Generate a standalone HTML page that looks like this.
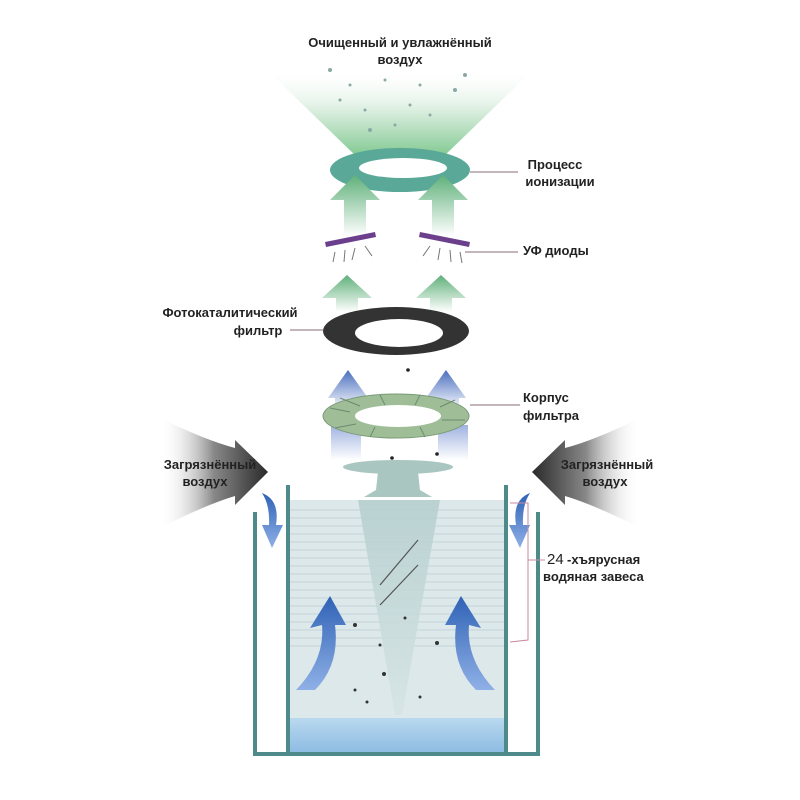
<!DOCTYPE html>
<html><head><meta charset="utf-8"><style>
html,body{margin:0;padding:0;background:#fff}
svg{display:block}
text{font-family:"Liberation Sans","DejaVu Sans",sans-serif;font-weight:bold;font-size:13px;fill:#222}
</style></head><body>
<svg width="800" height="800" viewBox="0 0 800 800" xmlns="http://www.w3.org/2000/svg">
<defs>
<linearGradient id="fan" x1="0" y1="0" x2="0" y2="1">
<stop offset="0" stop-color="#ffffff" stop-opacity="0"/>
<stop offset="0.5" stop-color="#cfe9d5"/>
<stop offset="1" stop-color="#6cc07f"/>
</linearGradient>
<linearGradient id="garr" x1="0" y1="1" x2="0" y2="0">
<stop offset="0" stop-color="#ffffff"/>
<stop offset="1" stop-color="#5fb07a"/>
</linearGradient>
<linearGradient id="barr" x1="0" y1="1" x2="0" y2="0">
<stop offset="0" stop-color="#ffffff"/>
<stop offset="1" stop-color="#4a6fbf"/>
</linearGradient>
<linearGradient id="bcol" x1="0" y1="1" x2="0" y2="0">
<stop offset="0" stop-color="#ffffff"/>
<stop offset="1" stop-color="#9fb2e0"/>
</linearGradient>
<linearGradient id="darkL" x1="0" y1="0" x2="1" y2="0">
<stop offset="0" stop-color="#fff" stop-opacity="0"/>
<stop offset="0.5" stop-color="#888"/>
<stop offset="1" stop-color="#2a2a2a"/>
</linearGradient>
<linearGradient id="darkR" x1="1" y1="0" x2="0" y2="0">
<stop offset="0" stop-color="#fff" stop-opacity="0"/>
<stop offset="0.5" stop-color="#888"/>
<stop offset="1" stop-color="#2a2a2a"/>
</linearGradient>
<linearGradient id="curv" x1="0" y1="1" x2="0" y2="0">
<stop offset="0" stop-color="#8fb0e6"/>
<stop offset="1" stop-color="#2f62b5"/>
</linearGradient>
<linearGradient id="bottomw" x1="0" y1="0" x2="0" y2="1">
<stop offset="0" stop-color="#b9d9ef"/>
<stop offset="1" stop-color="#8dbbe2"/>
</linearGradient>
<linearGradient id="cone" x1="0" y1="0" x2="0" y2="1">
<stop offset="0" stop-color="#b6cfcf"/>
<stop offset="1" stop-color="#d6e4e4"/>
</linearGradient>
</defs>

<text x="400" y="47" text-anchor="middle">Очищенный и увлажнённый</text>
<text x="400" y="64" text-anchor="middle">воздух</text>

<polygon points="265,68 535,68 440,160 360,160" fill="url(#fan)" opacity="0.9"/>
<g fill="#8aa9a5">
<circle cx="330" cy="70" r="2"/><circle cx="350" cy="85" r="1.5"/><circle cx="385" cy="80" r="1.5"/><circle cx="420" cy="85" r="1.5"/>
<circle cx="455" cy="90" r="2"/><circle cx="340" cy="100" r="1.5"/><circle cx="365" cy="110" r="1.5"/><circle cx="410" cy="105" r="1.5"/>
<circle cx="430" cy="115" r="1.5"/><circle cx="370" cy="130" r="2"/><circle cx="395" cy="125" r="1.5"/><circle cx="465" cy="75" r="2"/>
</g>

<ellipse cx="400" cy="170" rx="70" ry="22" fill="#59a898"/>
<ellipse cx="403" cy="168" rx="44" ry="10" fill="#fff"/>
<line x1="470" y1="172" x2="518" y2="172" stroke="#8a6a7a" stroke-width="1"/>
<text x="555" y="169" text-anchor="middle">Процесс</text>
<text x="560" y="186" text-anchor="middle">ионизации</text>

<polygon points="344,236 344,200 330,200 355,175 380,200 366,200 366,236" fill="url(#garr)"/>
<polygon points="432,236 432,200 418,200 443,175 468,200 454,200 454,236" fill="url(#garr)"/>

<polygon points="325,242 375,232 376,237 326,247" fill="#6b3f8c"/>
<polygon points="420,232 470,242 469,247 419,237" fill="#6b3f8c"/>
<g stroke="#777" stroke-width="1">
<line x1="335" y1="252" x2="333" y2="262"/><line x1="345" y1="250" x2="344" y2="262"/><line x1="355" y1="248" x2="352" y2="260"/><line x1="365" y1="246" x2="372" y2="256"/>
<line x1="430" y1="246" x2="423" y2="256"/><line x1="440" y1="248" x2="438" y2="260"/><line x1="450" y1="250" x2="451" y2="262"/><line x1="460" y1="252" x2="462" y2="263"/>
</g>
<line x1="465" y1="252" x2="518" y2="252" stroke="#8a6a7a" stroke-width="1"/>
<text x="523" y="255">УФ диоды</text>

<polygon points="336,312 336,298 322,298 347,275 372,298 358,298 358,312" fill="url(#garr)"/>
<polygon points="430,312 430,298 416,298 441,275 466,298 452,298 452,312" fill="url(#garr)"/>

<ellipse cx="396" cy="331" rx="73" ry="24" fill="#333"/>
<ellipse cx="399" cy="333" rx="44" ry="14" fill="#fff"/>
<line x1="290" y1="330" x2="323" y2="330" stroke="#8a6a7a" stroke-width="1"/>
<text x="230" y="317" text-anchor="middle">Фотокаталитический</text>
<text x="258" y="335" text-anchor="middle">фильтр</text>
<circle cx="408" cy="370" r="1.8" fill="#222"/>

<polygon points="335,410 335,398 328,398 348,370 368,398 361,398 361,410" fill="url(#barr)"/>
<polygon points="433,410 433,398 426,398 446,370 466,398 459,398 459,410" fill="url(#barr)"/>
<rect x="331" y="425" width="30" height="35" fill="url(#bcol)"/>
<rect x="438" y="425" width="30" height="35" fill="url(#bcol)"/>

<ellipse cx="396" cy="416" rx="73" ry="22" fill="#9fbe98" stroke="#7a9a78" stroke-width="1"/>
<g stroke="#6d8a6e" stroke-width="1">
<line x1="330" y1="408" x2="350" y2="412"/><line x1="340" y1="398" x2="360" y2="406"/><line x1="380" y1="395" x2="385" y2="405"/>
<line x1="420" y1="395" x2="415" y2="405"/><line x1="455" y1="400" x2="440" y2="407"/><line x1="465" y1="420" x2="442" y2="420"/>
<line x1="335" y1="428" x2="356" y2="424"/><line x1="370" y1="437" x2="375" y2="427"/><line x1="425" y1="437" x2="420" y2="427"/>
</g>
<ellipse cx="398" cy="416" rx="43" ry="11" fill="#fff"/>
<line x1="470" y1="405" x2="520" y2="405" stroke="#8a6a7a" stroke-width="1"/>
<text x="523" y="402">Корпус</text>
<text x="523" y="420">фильтра</text>
<circle cx="392" cy="458" r="1.8" fill="#222"/><circle cx="437" cy="454" r="1.8" fill="#222"/>

<path d="M160,418 Q205,440 235,448 L235,440 L268,472 L235,505 L235,496 Q205,505 160,528 Z" fill="url(#darkL)"/>
<path d="M640,418 Q595,440 565,448 L565,440 L532,472 L565,505 L565,496 Q595,505 640,528 Z" fill="url(#darkR)"/>
<text x="210" y="469" text-anchor="middle">Загрязнённый</text>
<text x="205" y="486" text-anchor="middle">воздух</text>
<text x="607" y="469" text-anchor="middle">Загрязнённый</text>
<text x="605" y="486" text-anchor="middle">воздух</text>

<rect x="288" y="500" width="218" height="222" fill="#dde8ea"/>
<g stroke="#bccdd2" stroke-width="0.8">
<line x1="288" y1="510" x2="506" y2="510"/><line x1="288" y1="518" x2="506" y2="518"/><line x1="288" y1="526" x2="506" y2="526"/>
<line x1="288" y1="534" x2="506" y2="534"/><line x1="288" y1="542" x2="506" y2="542"/><line x1="288" y1="550" x2="506" y2="550"/>
<line x1="288" y1="558" x2="506" y2="558"/><line x1="288" y1="566" x2="506" y2="566"/><line x1="288" y1="574" x2="506" y2="574"/>
<line x1="288" y1="582" x2="506" y2="582"/><line x1="288" y1="590" x2="506" y2="590"/><line x1="288" y1="598" x2="506" y2="598"/>
<line x1="288" y1="606" x2="506" y2="606"/><line x1="288" y1="614" x2="506" y2="614"/><line x1="288" y1="622" x2="506" y2="622"/>
<line x1="288" y1="630" x2="506" y2="630"/><line x1="288" y1="638" x2="506" y2="638"/><line x1="288" y1="646" x2="506" y2="646"/>
</g>
<rect x="288" y="718" width="218" height="35" fill="url(#bottomw)"/>

<ellipse cx="398" cy="467" rx="55" ry="7" fill="#a9c6c0"/>
<path d="M378,472 L418,472 L420,490 L432,497 L364,497 L376,490 Z" fill="#a9c6c0"/>
<polygon points="358,500 440,500 402,715 395,715" fill="url(#cone)" opacity="0.9"/>
<g stroke="#555" stroke-width="1.2">
<line x1="380" y1="585" x2="418" y2="540"/><line x1="380" y1="605" x2="418" y2="565"/>
</g>

<g fill="#333">
<circle cx="355" cy="625" r="2"/><circle cx="437" cy="643" r="2"/><circle cx="384" cy="674" r="2"/><circle cx="355" cy="690" r="1.5"/>
<circle cx="367" cy="702" r="1.5"/><circle cx="420" cy="697" r="1.5"/><circle cx="405" cy="618" r="1.5"/><circle cx="380" cy="645" r="1.5"/>
</g>

<g stroke="#4e8a8a" stroke-width="4" fill="none">
<line x1="255" y1="512" x2="255" y2="755"/>
<line x1="538" y1="512" x2="538" y2="755"/>
<line x1="288" y1="485" x2="288" y2="755"/>
<line x1="506" y1="485" x2="506" y2="755"/>
<line x1="253" y1="754" x2="540" y2="754"/>
</g>

<path d="M262,493 Q280,500 276,525 L283,525 L272,548 L262,525 L269,525 Q270,505 262,493 Z" fill="url(#curv)"/>
<path d="M530,493 Q512,500 516,525 L509,525 L520,548 L530,525 L523,525 Q522,505 530,493 Z" fill="url(#curv)"/>

<path d="M296,690 Q325,660 322,625 L310,628 L330,596 L346,625 L335,625 Q340,665 315,690 Z" fill="url(#curv)"/>
<path d="M495,690 Q466,660 469,625 L481,628 L461,596 L445,625 L456,625 Q451,665 476,690 Z" fill="url(#curv)"/>

<path d="M510,503 L528,503 L528,640 L510,642" stroke="#c98aa0" stroke-width="1" fill="none"/>
<line x1="528" y1="560" x2="545" y2="560" stroke="#c98aa0" stroke-width="1"/>
<text x="547" y="564" style="font-weight:normal;font-size:15px">24</text>
<text x="567" y="564">-хъярусная</text>
<text x="543" y="581">водяная завеса</text>
</svg>
</body></html>
